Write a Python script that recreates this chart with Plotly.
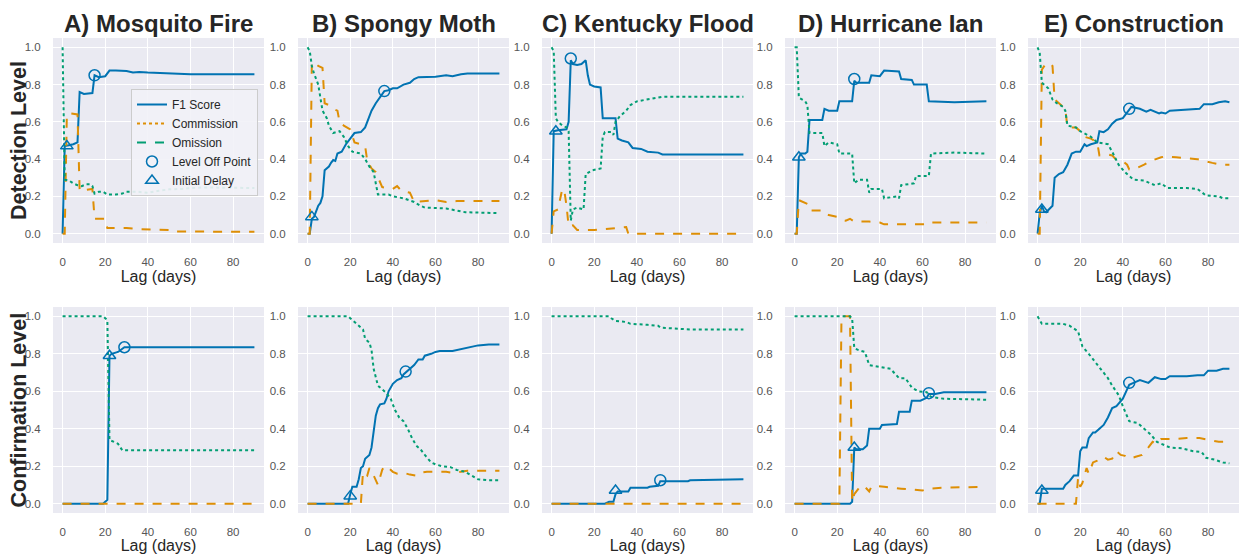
import plotly.graph_objects as go

# ---------------- data: [day, value] pairs ----------------
TITLES = ["A) Mosquito Fire", "B) Spongy Moth", "C) Kentucky Flood", "D) Hurricane Ian", "E) Construction"]
ROW_LABELS = ["Detection Level", "Confirmation Level"]
X_TICKS = [0, 20, 40, 60, 80]
Y_TICKS = [0.0, 0.2, 0.4, 0.6, 0.8, 1.0]

# ---- Detection level ----
MF_DET_F1 = [[0,0],[1,0.47],[3,0.475],[5,0.48],[7,0.49],[8,0.76],[10,0.75],[14,0.755],[15,0.85],[17,0.84],[20,0.845],[22,0.875],[25,0.875],[30,0.873],[33,0.865],[36,0.868],[40,0.865],[50,0.86],[60,0.856],[90,0.856]]
MF_DET_COM = [[0,0],[1,0],[2,0.64],[4,0.645],[7,0.64],[8,0.23],[11,0.235],[14,0.24],[15,0.08],[20,0.08],[21,0.03],[30,0.03],[35,0.025],[50,0.02],[51,0.012],[90,0.01]]
MF_DET_OMI = [[0,1.0],[1,0.29],[3,0.285],[5,0.27],[7,0.26],[9,0.255],[11,0.265],[13,0.265],[14,0.255],[15,0.215],[17,0.225],[19,0.225],[21,0.21],[25,0.21],[28,0.215],[30,0.225],[35,0.225],[40,0.22],[45,0.23],[50,0.238],[55,0.24],[60,0.242],[65,0.248],[90,0.245]]
MF_DET_DELAY = [2, 0.47]
MF_DET_LEVEL = [15, 0.85]

SM_DET_F1 = [[0,0],[1,0],[2,0.08],[3,0.09],[4,0.12],[5,0.15],[6,0.165],[7,0.2],[8,0.34],[10,0.36],[11,0.38],[12,0.395],[13,0.39],[14,0.43],[16,0.44],[18,0.48],[20,0.51],[22,0.54],[25,0.545],[27,0.57],[28,0.6],[30,0.66],[32,0.7],[35,0.75],[36,0.765],[38,0.77],[40,0.78],[42,0.78],[45,0.8],[48,0.81],[50,0.83],[52,0.84],[60,0.842],[65,0.85],[68,0.845],[72,0.855],[75,0.86],[90,0.86]]
SM_DET_COM = [[0,0],[1,0],[2,0.92],[4,0.91],[5,0.9],[7,0.89],[8,0.7],[10,0.69],[12,0.67],[14,0.66],[15,0.6],[17,0.58],[20,0.56],[21,0.52],[22,0.49],[25,0.48],[27,0.47],[28,0.39],[30,0.35],[32,0.33],[34,0.27],[35,0.25],[40,0.24],[42,0.255],[44,0.23],[48,0.22],[50,0.17],[55,0.175],[60,0.18],[65,0.17],[70,0.175],[90,0.175]]
SM_DET_OMI = [[0,1.0],[1,0.98],[2,0.9],[3,0.86],[5,0.8],[6,0.72],[7,0.66],[9,0.62],[10,0.58],[12,0.54],[15,0.55],[17,0.52],[19,0.47],[21,0.44],[25,0.43],[27,0.4],[29,0.36],[31,0.33],[33,0.21],[38,0.21],[40,0.2],[45,0.19],[50,0.17],[53,0.15],[55,0.14],[65,0.135],[70,0.125],[74,0.115],[90,0.11]]
SM_DET_DELAY = [2, 0.09]
SM_DET_LEVEL = [36, 0.765]

KF_DET_F1 = [[0,0],[1,0.55],[3,0.555],[7,0.56],[8,0.6],[9,0.93],[10,0.91],[12,0.905],[14,0.91],[16,0.93],[17,0.85],[18,0.8],[20,0.79],[23,0.785],[24,0.62],[30,0.62],[31,0.51],[33,0.5],[36,0.49],[38,0.46],[42,0.455],[45,0.44],[50,0.435],[52,0.425],[90,0.425]]
KF_DET_COM = [[0,0],[1,0.12],[3,0.13],[5,0.24],[6,0.23],[7,0.15],[8,0.04],[10,0.045],[12,0.02],[20,0.02],[25,0.025],[32,0.03],[35,0.035],[36,0.0],[90,0.0]]
KF_DET_OMI = [[0,1.0],[1,0.98],[2,0.62],[3,0.6],[5,0.58],[7,0.57],[8,0.55],[9,0.07],[10,0.13],[12,0.14],[15,0.13],[16,0.32],[19,0.34],[23,0.35],[24,0.52],[25,0.545],[28,0.545],[29,0.53],[30,0.6],[32,0.63],[35,0.66],[37,0.69],[40,0.71],[45,0.72],[52,0.735],[90,0.735]]
KF_DET_DELAY = [2, 0.55]
KF_DET_LEVEL = [9, 0.94]

HI_DET_F1 = [[0,0],[1,0],[2,0.41],[3,0.43],[5,0.43],[6,0.44],[7,0.61],[13,0.61],[14,0.67],[16,0.66],[20,0.66],[21,0.71],[27,0.71],[28,0.82],[29,0.81],[35,0.81],[36,0.85],[40,0.845],[42,0.875],[49,0.87],[50,0.83],[55,0.825],[56,0.8],[62,0.8],[63,0.71],[70,0.705],[75,0.705],[90,0.71]]
HI_DET_COM = [[0,0],[1,0],[2,0.18],[4,0.17],[6,0.16],[7,0.125],[13,0.125],[14,0.11],[16,0.1],[20,0.09],[22,0.075],[24,0.07],[26,0.08],[28,0.065],[35,0.065],[40,0.06],[42,0.05],[50,0.05],[62,0.05],[63,0.06],[90,0.06]]
HI_DET_OMI = [[0,1.0],[1,1.0],[2,0.73],[5,0.71],[6,0.69],[7,0.54],[13,0.54],[14,0.47],[16,0.49],[20,0.48],[21,0.43],[27,0.43],[28,0.27],[30,0.29],[34,0.29],[35,0.22],[36,0.24],[41,0.24],[42,0.19],[48,0.2],[49,0.19],[50,0.26],[56,0.27],[57,0.31],[63,0.31],[64,0.43],[75,0.435],[90,0.43]]
HI_DET_DELAY = [2, 0.41]
HI_DET_LEVEL = [28, 0.83]

CO_DET_F1 = [[0,0],[1,0.11],[2,0.15],[3,0.12],[4,0.115],[6,0.14],[7,0.15],[8,0.3],[9,0.31],[10,0.32],[12,0.33],[14,0.37],[16,0.43],[18,0.44],[20,0.44],[22,0.48],[23,0.47],[25,0.48],[28,0.49],[29,0.55],[31,0.545],[33,0.56],[35,0.59],[37,0.61],[40,0.62],[42,0.65],[44,0.68],[48,0.67],[51,0.655],[53,0.665],[57,0.645],[58,0.65],[60,0.645],[62,0.66],[70,0.665],[76,0.67],[78,0.695],[82,0.695],[85,0.705],[88,0.71],[90,0.705]]
CO_DET_COM = [[0,0],[1,0],[2,0.88],[4,0.915],[6,0.91],[7,0.9],[8,0.72],[10,0.7],[12,0.68],[13,0.67],[14,0.57],[18,0.57],[20,0.55],[22,0.52],[25,0.51],[28,0.49],[29,0.42],[33,0.425],[35,0.42],[37,0.395],[40,0.39],[42,0.37],[43,0.345],[46,0.35],[50,0.37],[53,0.39],[58,0.41],[60,0.415],[65,0.41],[70,0.405],[75,0.4],[82,0.38],[86,0.37],[90,0.37]]
CO_DET_OMI = [[0,1.0],[1,0.97],[2,0.81],[4,0.79],[5,0.78],[7,0.72],[9,0.7],[12,0.68],[13,0.66],[14,0.58],[18,0.57],[20,0.55],[23,0.53],[25,0.52],[28,0.49],[33,0.48],[35,0.44],[38,0.37],[41,0.33],[45,0.29],[50,0.285],[55,0.26],[58,0.27],[61,0.245],[70,0.245],[75,0.24],[79,0.205],[85,0.2],[87,0.19],[90,0.19]]
CO_DET_DELAY = [2, 0.13]
CO_DET_LEVEL = [43, 0.67]

# ---- Confirmation level ----
MF_CON_F1 = [[0,0],[19,0],[20,0.01],[21,0.02],[22,0.79],[23,0.8],[26,0.81],[27,0.82],[29,0.835],[90,0.835]]
MF_CON_COM = [[0,0],[90,0]]
MF_CON_OMI = [[0,1.0],[19,1.0],[20,0.99],[21,0.98],[22,0.34],[24,0.33],[26,0.32],[28,0.285],[90,0.285]]
MF_CON_DELAY = [22, 0.79]
MF_CON_LEVEL = [29, 0.835]

SM_CON_F1 = [[0,0],[19,0],[20,0.05],[21,0.09],[23,0.09],[24,0.13],[25,0.19],[26,0.2],[27,0.24],[28,0.25],[29,0.26],[30,0.3],[31,0.39],[32,0.47],[33,0.51],[34,0.53],[36,0.535],[37,0.56],[38,0.6],[40,0.64],[42,0.66],[44,0.67],[45,0.69],[46,0.7],[47,0.71],[50,0.74],[52,0.77],[54,0.77],[55,0.79],[57,0.795],[58,0.8],[60,0.81],[62,0.815],[68,0.815],[72,0.825],[75,0.83],[78,0.84],[80,0.845],[85,0.85],[90,0.85]]
SM_CON_COM = [[0,0],[25,0],[26,0.17],[28,0.15],[29,0.19],[31,0.15],[33,0.1],[35,0.18],[36,0.2],[38,0.19],[40,0.17],[42,0.16],[45,0.165],[48,0.155],[51,0.15],[53,0.165],[56,0.17],[65,0.17],[68,0.165],[72,0.17],[75,0.175],[90,0.175]]
SM_CON_OMI = [[0,1.0],[19,1.0],[20,0.99],[22,0.97],[24,0.95],[26,0.93],[27,0.88],[29,0.86],[30,0.82],[31,0.72],[33,0.63],[35,0.61],[37,0.59],[39,0.56],[41,0.5],[43,0.46],[45,0.44],[47,0.4],[49,0.35],[51,0.31],[53,0.29],[55,0.26],[58,0.22],[60,0.21],[63,0.2],[67,0.195],[70,0.18],[74,0.17],[77,0.15],[80,0.13],[85,0.125],[90,0.125]]
SM_CON_DELAY = [20, 0.04]
SM_CON_LEVEL = [46, 0.705]

KF_CON_F1 = [[0,0],[25,0],[27,0.01],[29,0.01],[30,0.05],[31,0.065],[36,0.065],[37,0.085],[45,0.085],[46,0.09],[50,0.095],[51,0.12],[64,0.12],[65,0.125],[90,0.13]]
KF_CON_COM = [[0,0],[90,0]]
KF_CON_OMI = [[0,1.0],[27,1.0],[28,0.99],[30,0.975],[35,0.97],[37,0.96],[45,0.955],[50,0.95],[51,0.94],[60,0.935],[65,0.93],[90,0.93]]
KF_CON_DELAY = [30, 0.07]
KF_CON_LEVEL = [51, 0.125]

HI_CON_F1 = [[0,0],[26,0],[27,0.01],[28,0.3],[29,0.29],[32,0.29],[34,0.31],[35,0.4],[40,0.4],[41,0.42],[48,0.425],[49,0.49],[54,0.49],[55,0.55],[59,0.55],[62,0.565],[63,0.585],[66,0.585],[70,0.595],[90,0.595]]
HI_CON_COM = [[0,0],[21,0],[22,1.0],[26,1.0],[27,0.01],[28,0.05],[30,0.08],[31,0.095],[33,0.09],[35,0.065],[36,0.09],[38,0.095],[42,0.09],[48,0.085],[50,0.08],[55,0.075],[60,0.07],[63,0.08],[70,0.085],[90,0.09]]
HI_CON_OMI = [[0,1.0],[26,1.0],[27,0.99],[28,0.83],[30,0.82],[33,0.81],[35,0.74],[40,0.73],[45,0.72],[49,0.67],[52,0.67],[55,0.62],[58,0.6],[62,0.595],[64,0.57],[70,0.56],[90,0.555]]
HI_CON_DELAY = [28, 0.3]
HI_CON_LEVEL = [63, 0.59]

CO_CON_F1 = [[0,0],[1,0],[2,0.08],[12,0.08],[13,0.1],[15,0.12],[17,0.15],[19,0.15],[20,0.28],[21,0.3],[23,0.3],[24,0.35],[26,0.38],[27,0.38],[29,0.4],[31,0.42],[33,0.46],[35,0.51],[37,0.52],[39,0.55],[40,0.56],[42,0.61],[43,0.635],[45,0.645],[48,0.66],[52,0.645],[55,0.675],[58,0.665],[60,0.665],[62,0.68],[70,0.68],[75,0.685],[78,0.685],[80,0.71],[84,0.71],[87,0.72],[90,0.72]]
CO_CON_COM = [[0,0],[18,0],[19,0.14],[20,0.09],[21,0.11],[23,0.19],[24,0.16],[26,0.22],[28,0.23],[31,0.25],[33,0.235],[35,0.24],[37,0.28],[39,0.26],[41,0.255],[43,0.24],[46,0.25],[49,0.26],[52,0.3],[54,0.33],[56,0.32],[58,0.345],[65,0.345],[70,0.35],[76,0.35],[80,0.34],[85,0.33],[90,0.33]]
CO_CON_OMI = [[0,1.0],[2,0.96],[12,0.96],[15,0.95],[19,0.92],[21,0.84],[24,0.8],[28,0.74],[31,0.7],[33,0.67],[35,0.63],[38,0.58],[40,0.52],[43,0.44],[47,0.43],[50,0.4],[53,0.37],[56,0.33],[58,0.32],[62,0.3],[68,0.295],[73,0.28],[77,0.275],[79,0.245],[83,0.235],[87,0.22],[90,0.215]]
CO_CON_DELAY = [2, 0.07]
CO_CON_LEVEL = [43, 0.645]

PANELS = [
    [MF_DET_F1, MF_DET_COM, MF_DET_OMI, MF_DET_LEVEL, MF_DET_DELAY],
    [SM_DET_F1, SM_DET_COM, SM_DET_OMI, SM_DET_LEVEL, SM_DET_DELAY],
    [KF_DET_F1, KF_DET_COM, KF_DET_OMI, KF_DET_LEVEL, KF_DET_DELAY],
    [HI_DET_F1, HI_DET_COM, HI_DET_OMI, HI_DET_LEVEL, HI_DET_DELAY],
    [CO_DET_F1, CO_DET_COM, CO_DET_OMI, CO_DET_LEVEL, CO_DET_DELAY],
    [MF_CON_F1, MF_CON_COM, MF_CON_OMI, MF_CON_LEVEL, MF_CON_DELAY],
    [SM_CON_F1, SM_CON_COM, SM_CON_OMI, SM_CON_LEVEL, SM_CON_DELAY],
    [KF_CON_F1, KF_CON_COM, KF_CON_OMI, KF_CON_LEVEL, KF_CON_DELAY],
    [HI_CON_F1, HI_CON_COM, HI_CON_OMI, HI_CON_LEVEL, HI_CON_DELAY],
    [CO_CON_F1, CO_CON_COM, CO_CON_OMI, CO_CON_LEVEL, CO_CON_DELAY],
]

# ---------------- styling / layout ----------------
W, H = 1241, 554
BLUE, ORANGE, GREEN = "#0173B2", "#DE8F05", "#029E73"
BG = "#EAEAF2"
FONT = "Liberation Sans, Arial, sans-serif"
COL_LEFT = [53, 298, 542, 785, 1028]
PANEL_W = 211
ROW_TOP = [38, 307]
ROW_BOT = [243, 513]

fig = go.Figure()
layout = dict(
    width=W, height=H, margin=dict(l=0, r=0, t=0, b=0),
    paper_bgcolor="white", plot_bgcolor=BG,
    font=dict(family=FONT, color="#262626"),
    showlegend=True,
)

for idx, (f1, com, omi, level, delay) in enumerate(PANELS):
    r, c = divmod(idx, 5)
    n = idx + 1
    xa = "x" if n == 1 else f"x{n}"
    ya = "y" if n == 1 else f"y{n}"
    first = idx == 0

    fig.add_trace(go.Scatter(x=[p[0] for p in f1], y=[p[1] for p in f1], mode="lines",
                             line=dict(color=BLUE, width=2), name="F1 Score",
                             showlegend=first, xaxis=xa, yaxis=ya))
    fig.add_trace(go.Scatter(x=[p[0] for p in com], y=[p[1] for p in com], mode="lines",
                             line=dict(color=ORANGE, width=2, dash="dash"), name="Commission",
                             showlegend=False, xaxis=xa, yaxis=ya))
    fig.add_trace(go.Scatter(x=[p[0] for p in omi], y=[p[1] for p in omi], mode="lines",
                             line=dict(color=GREEN, width=2, dash="dot"), name="Omission",
                             showlegend=False, xaxis=xa, yaxis=ya))
    if first:
        # legend keys as drawn in the reference legend
        fig.add_trace(go.Scatter(x=[None], y=[None], mode="lines",
                                 line=dict(color=ORANGE, width=2, dash="dot"), name="Commission",
                                 xaxis=xa, yaxis=ya))
        fig.add_trace(go.Scatter(x=[None], y=[None], mode="lines",
                                 line=dict(color=GREEN, width=2, dash="dash"), name="Omission",
                                 xaxis=xa, yaxis=ya))
    fig.add_trace(go.Scatter(x=[level[0]], y=[level[1]], mode="markers",
                             marker=dict(symbol="circle-open", size=11, color=BLUE, line=dict(width=1.5)),
                             name="Level Off Point", showlegend=first, xaxis=xa, yaxis=ya))
    fig.add_trace(go.Scatter(x=[delay[0]], y=[delay[1]], mode="markers",
                             marker=dict(symbol="triangle-up-open", size=11, color=BLUE, line=dict(width=1.5)),
                             name="Initial Delay", showlegend=first, xaxis=xa, yaxis=ya))

    x0 = COL_LEFT[c] / W
    x1 = (COL_LEFT[c] + PANEL_W) / W
    y0 = 1 - ROW_BOT[r] / H
    y1 = 1 - ROW_TOP[r] / H
    xkey = "xaxis" if n == 1 else f"xaxis{n}"
    ykey = "yaxis" if n == 1 else f"yaxis{n}"
    layout[xkey] = dict(domain=[x0, x1], anchor=ya, range=[-4.5, 94.5],
                        tickvals=X_TICKS, showgrid=True, gridcolor="white", gridwidth=1.2,
                        zeroline=False, showline=False,
                        ticks="outside", ticklen=8, tickcolor="rgba(0,0,0,0)",
                        tickfont=dict(size=11.5, color="#555555"),
                        title=dict(text="Lag (days)", font=dict(size=16, color="#262626"), standoff=1))
    layout[ykey] = dict(domain=[y0, y1], anchor=xa, range=[-0.05, 1.05],
                        tickvals=Y_TICKS, tickformat=".1f", showgrid=True, gridcolor="white", gridwidth=1.2,
                        zeroline=False, showline=False,
                        ticks="outside", ticklen=9, tickcolor="rgba(0,0,0,0)",
                        tickfont=dict(size=11.5, color="#555555"))

annotations = []
for c, t in enumerate(TITLES):
    annotations.append(dict(text=f"<b>{t}</b>", x=(COL_LEFT[c] + PANEL_W / 2) / W, y=1 - 23 / H,
                            xref="paper", yref="paper", xanchor="center", yanchor="middle",
                            showarrow=False, font=dict(size=24, color="#262626", family=FONT)))
for r, lab in enumerate(ROW_LABELS):
    annotations.append(dict(text=f"<b>{lab}</b>", x=18.5 / W, y=1 - (ROW_TOP[r] + ROW_BOT[r]) / 2 / H,
                            xref="paper", yref="paper", xanchor="center", yanchor="middle",
                            textangle=-90, showarrow=False,
                            font=dict(size=21.5, color="#262626", family=FONT)))
layout["annotations"] = annotations
layout["legend"] = dict(x=131 / W, y=1 - 89 / H, xanchor="left", yanchor="top",
                        bgcolor="rgba(242,242,247,0.9)", bordercolor="#CCCCCC", borderwidth=1,
                        font=dict(size=12, color="#262626"), traceorder="normal",
                        tracegroupgap=0, itemwidth=30)
fig.update_layout(**layout)
fig.write_html("out.html", config={"displayModeBar": False},
               post_script="document.body.style.margin='0px';")
